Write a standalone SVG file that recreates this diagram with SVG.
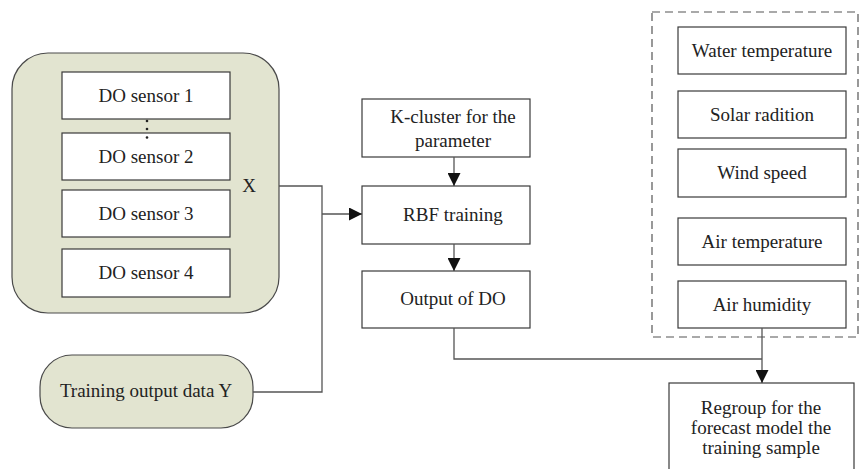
<svg xmlns="http://www.w3.org/2000/svg" width="864" height="469" viewBox="0 0 864 469">
<defs>
<style>
.box{fill:#fff;stroke:#3a3a3a;stroke-width:1.2}
.grp{fill:#e2e4d0;stroke:#4a4a4a;stroke-width:1.2}
.t{font-family:'Liberation Serif','DejaVu Serif','Times New Roman',serif;font-size:19px;fill:#222;text-anchor:middle}
.ln{fill:none;stroke:#555;stroke-width:1.3}
</style>
<marker id="ah" viewBox="0 0 10 10" refX="10" refY="5" markerWidth="13" markerHeight="13" markerUnits="userSpaceOnUse" orient="auto">
<path d="M0,0 L10,5 L0,10 Z" fill="#111"/>
</marker>
</defs>
<rect width="864" height="469" fill="#fff"/>

<g id="sensors">
<rect class="grp" x="12" y="53" width="267" height="260" rx="36"/>
<g id="s1"><rect class="box" x="62" y="72" width="168" height="47"/><text class="t" x="146" y="102">DO sensor 1</text></g>
<g id="s2"><rect class="box" x="62" y="133" width="168" height="47"/><text class="t" x="146" y="163">DO sensor 2</text></g>
<g id="dots"><circle cx="147" cy="121" r="1.3" fill="#222"/><circle cx="147" cy="129" r="1.3" fill="#222"/><circle cx="147" cy="137.5" r="1.3" fill="#222"/></g>
<g id="s3"><rect class="box" x="62" y="190" width="168" height="47"/><text class="t" x="146" y="220">DO sensor 3</text></g>
<g id="s4"><rect class="box" x="62" y="249" width="168" height="48"/><text class="t" x="146" y="279">DO sensor 4</text></g>
<text class="t" x="249" y="192">X</text>
</g>

<g id="trainY">
<rect class="grp" x="40" y="355" width="213" height="73" rx="32"/>
<text class="t" x="146" y="397">Training output data Y</text>
</g>

<g id="kcluster">
<rect class="box" x="362" y="99" width="168" height="58"/>
<text class="t" x="453" y="123">K-cluster for the</text>
<text class="t" x="453" y="147">parameter</text>
</g>
<g id="rbf">
<rect class="box" x="362" y="186" width="168" height="58"/>
<text class="t" x="453" y="221">RBF training</text>
</g>
<g id="output">
<rect class="box" x="362" y="271" width="168" height="57"/>
<text class="t" x="453" y="305">Output of DO</text>
</g>

<g id="params">
<rect x="652" y="12" width="206" height="325" fill="none" stroke="#555" stroke-width="1.2" stroke-dasharray="8,5"/>
<g id="water"><rect class="box" x="678" y="27" width="168" height="47"/><text class="t" x="762" y="57">Water temperature</text></g>
<g id="solar"><rect class="box" x="678" y="91" width="168" height="47"/><text class="t" x="762" y="121">Solar radition</text></g>
<g id="wind"><rect class="box" x="678" y="149" width="168" height="48"/><text class="t" x="762" y="179">Wind speed</text></g>
<g id="airt"><rect class="box" x="678" y="218" width="168" height="47"/><text class="t" x="762" y="248">Air temperature</text></g>
<g id="airh"><rect class="box" x="678" y="281" width="168" height="47"/><text class="t" x="762" y="311">Air humidity</text></g>
</g>

<g id="regroup">
<rect class="box" x="669" y="383" width="185" height="100"/>
<text class="t" x="761" y="414">Regroup for the</text>
<text class="t" x="761" y="434">forecast model the</text>
<text class="t" x="761" y="454">training sample</text>
</g>

<g id="connectors">
<polyline class="ln" points="279,186 322,186 322,392 253,392"/>
<line class="ln" x1="322" y1="214" x2="362" y2="214" marker-end="url(#ah)"/>
<line class="ln" x1="454" y1="157" x2="454" y2="186" marker-end="url(#ah)"/>
<line class="ln" x1="454" y1="244" x2="454" y2="271" marker-end="url(#ah)"/>
<polyline class="ln" points="454,328 454,359 762,359"/>
<line class="ln" x1="762" y1="328" x2="762" y2="383" marker-end="url(#ah)"/>
</g>
</svg>
